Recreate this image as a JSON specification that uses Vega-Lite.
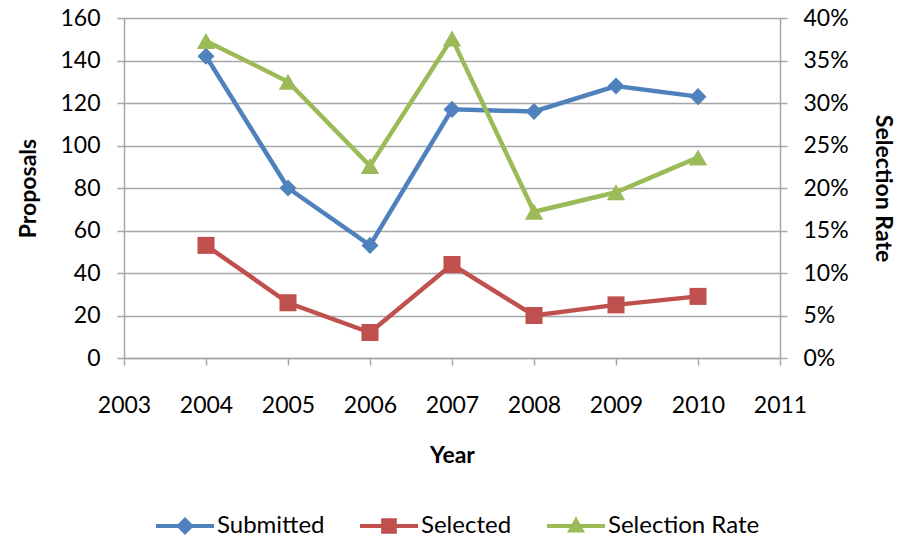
{
  "$schema": "https://vega.github.io/schema/vega-lite/v6.json",
  "autosize": "none",
  "width": 656,
  "height": 340,
  "padding": {"left": 124, "top": 18, "right": 119, "bottom": 179},
  "background": "white",
  "config": {
    "font": "Lato",
    "view": {"stroke": null},
    "axis": {
      "labelFont": "Lato",
      "labelFontSize": 23,
      "labelColor": "#000",
      "titleFont": "Lato",
      "titleFontSize": 23,
      "titleFontWeight": "bold",
      "titleColor": "#000",
      "domainColor": "#a6a6a6",
      "tickColor": "#a6a6a6",
      "gridColor": "#a6a6a6",
      "domainWidth": 1.5,
      "tickWidth": 1.5,
      "gridWidth": 1.5,
      "tickSize": 7,
      "labelFlush": false
    }
  },
  "data": {
    "values": [
      {"Year": 2004, "Series": "Submitted", "Value": 142},
      {"Year": 2005, "Series": "Submitted", "Value": 80},
      {"Year": 2006, "Series": "Submitted", "Value": 53},
      {"Year": 2007, "Series": "Submitted", "Value": 117},
      {"Year": 2008, "Series": "Submitted", "Value": 116},
      {"Year": 2009, "Series": "Submitted", "Value": 128},
      {"Year": 2010, "Series": "Submitted", "Value": 123},
      {"Year": 2004, "Series": "Selected", "Value": 53},
      {"Year": 2005, "Series": "Selected", "Value": 26},
      {"Year": 2006, "Series": "Selected", "Value": 12},
      {"Year": 2007, "Series": "Selected", "Value": 44},
      {"Year": 2008, "Series": "Selected", "Value": 20},
      {"Year": 2009, "Series": "Selected", "Value": 25},
      {"Year": 2010, "Series": "Selected", "Value": 29},
      {"Year": 2004, "Series": "Selection Rate", "Value": 0.373},
      {"Year": 2005, "Series": "Selection Rate", "Value": 0.325},
      {"Year": 2006, "Series": "Selection Rate", "Value": 0.226},
      {"Year": 2007, "Series": "Selection Rate", "Value": 0.376},
      {"Year": 2008, "Series": "Selection Rate", "Value": 0.172},
      {"Year": 2009, "Series": "Selection Rate", "Value": 0.195},
      {"Year": 2010, "Series": "Selection Rate", "Value": 0.236}
    ]
  },
  "encoding": {
    "x": {
      "field": "Year",
      "type": "quantitative",
      "scale": {"domain": [2003, 2011], "nice": false, "zero": false},
      "axis": {
        "title": "Year",
        "format": "d",
        "values": [2003, 2004, 2005, 2006, 2007, 2008, 2009, 2010, 2011],
        "grid": false,
        "labelFlush": false,
        "labelOverlap": false,
        "labelFontSize": 23,
        "titleFontSize": 23,
        "labelPadding": 29,
        "titlePadding": 27
      }
    },
    "color": {
      "field": "Series",
      "type": "nominal",
      "scale": {
        "domain": ["Submitted", "Selected", "Selection Rate"],
        "range": ["#4F81BD", "#C0504D", "#9BBB59"]
      },
      "legend": {
        "title": null,
        "orient": "none",
        "direction": "horizontal",
        "legendX": 32,
        "legendY": 479,
        "symbolSize": 3364,
        "symbolStrokeWidth": 0,
        "labelFontSize": 24,
        "labelFont": "Lato",
        "labelColor": "#000",
        "labelOffset": 3,
        "columnPadding": 35,
        "encode": {
          "symbols": {
            "update": {
              "shape": {"signal": "datum.value === 'Submitted' ? 'M-1,-0.07H1V0.07H-1Z M0,-0.31L0.31,0L0,0.31L-0.31,0Z' : datum.value === 'Selected' ? 'M-1,-0.07H1V0.07H-1Z M-0.27,-0.27H0.27V0.27H-0.27Z' : 'M-1,-0.07H1V0.07H-1Z M0,-0.34L0.31,0.22L-0.31,0.22Z'"},
              "fill": {"scale": "color", "field": "value"},
              "strokeWidth": {"value": 0},
              "opacity": {"value": 1}
            }
          }
        }
      }
    }
  },
  "layer": [
    {
      "transform": [{"filter": "datum.Series !== 'Selection Rate'"}],
      "encoding": {
        "y": {
          "field": "Value",
          "type": "quantitative",
          "scale": {"domain": [0, 160], "nice": false},
          "axis": {
            "title": "Proposals",
            "values": [0, 20, 40, 60, 80, 100, 120, 140, 160],
            "grid": true,
            "labelFlush": false,
            "labelFontSize": 23,
            "titleFontSize": 23,
            "labelPadding": 17,
            "titlePadding": 19
          }
        }
      },
      "layer": [
        {"mark": {"type": "line", "strokeWidth": 4.5}},
        {
          "mark": {"type": "point", "filled": true, "opacity": 1},
          "encoding": {
            "shape": {
              "field": "Series",
              "type": "nominal",
              "scale": {"domain": ["Submitted", "Selected"], "range": ["diamond", "square"]},
              "legend": null
            },
            "size": {"value": 290}
          }
        }
      ]
    },
    {
      "transform": [{"filter": "datum.Series === 'Selection Rate'"}],
      "encoding": {
        "y": {
          "field": "Value",
          "type": "quantitative",
          "scale": {"domain": [0, 0.4], "nice": false},
          "axis": {
            "title": "Selection Rate",
            "orient": "right",
            "format": ".0%",
            "values": [0, 0.05, 0.1, 0.15, 0.2, 0.25, 0.3, 0.35, 0.4],
            "grid": false,
            "labelFlush": false,
            "labelFontSize": 23,
            "titleFontSize": 23,
            "labelPadding": 16,
            "titlePadding": 22
          }
        }
      },
      "layer": [
        {"mark": {"type": "line", "strokeWidth": 4.5}},
        {
          "mark": {"type": "point", "filled": true, "opacity": 1, "shape": "triangle-up"},
          "encoding": {"size": {"value": 340}}
        }
      ]
    }
  ],
  "resolve": {"scale": {"y": "independent", "shape": "independent"}}
}
